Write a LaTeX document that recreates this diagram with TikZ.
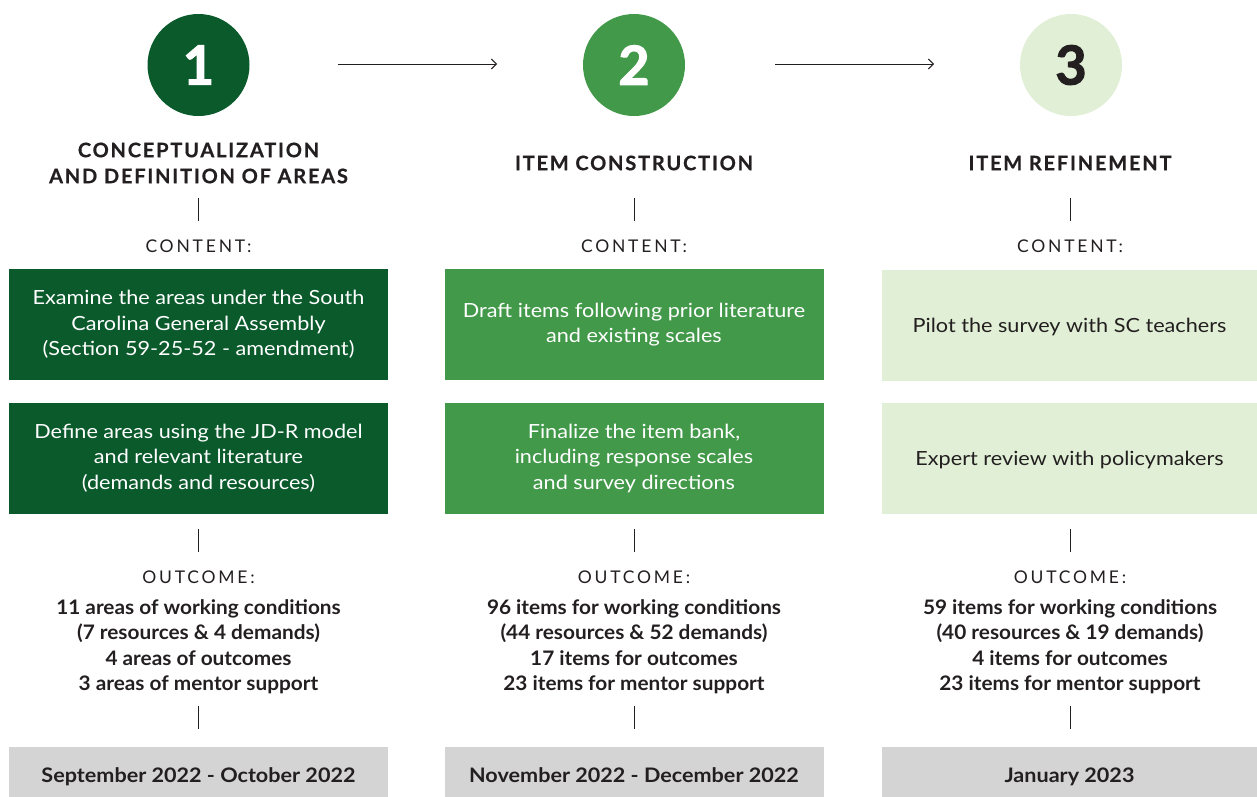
\documentclass[tikz,border=0pt]{standalone}
\usepackage{fontspec}
\usetikzlibrary{arrows.meta}
\setmainfont{Lato}
\newfontfamily\capsfont[LetterSpace=16]{Lato}
\newfontfamily\headfont[LetterSpace=9,FakeBold=0.6]{Lato}
\newfontfamily\bodyfont[FakeStretch=1.11]{Lato}
\newfontfamily\outfont[FakeStretch=1.04]{Lato}
\newfontfamily\barfont[FakeStretch=1.08]{Lato}
\newfontfamily\numfont[FakeBold=2]{Lato}
\definecolor{dg}{HTML}{0A5A2C}
\definecolor{mg}{HTML}{43994A}
\definecolor{lg}{HTML}{E0EFD5}
\definecolor{gb}{HTML}{D4D4D4}
\definecolor{tx}{HTML}{231F20}
\tikzset{
  numc/.style={circle, minimum size=102pt, inner sep=0pt, font=\numfont\fontsize{54}{54}\selectfont\bfseries},
  head/.style={align=center, text=tx, font=\headfont\fontsize{20}{26}\selectfont\bfseries},
  lab/.style={text=tx, font=\capsfont\fontsize{17.5}{20}\selectfont},
  box/.style={minimum width=379pt, minimum height=111pt, inner sep=0pt, align=center, font=\bodyfont\fontsize{19.5}{25.5}\selectfont},
  onebox/.style={box, text height=14pt, text depth=0pt},
  outc/.style={align=center, text=tx, font=\outfont\fontsize{20}{25.5}\selectfont\bfseries},
  bar/.style={fill=gb, minimum width=379pt, minimum height=57pt, inner sep=0pt, text=tx, text height=14.5pt, text depth=0pt, font=\barfont\fontsize{20}{25}\selectfont\bfseries},
  tick/.style={draw=tx, line width=0.9pt},
  flow/.style={draw=tx, line width=0.9pt, -{Straight Barb[length=5pt,width=10pt]}}
}
\begin{document}
\begin{tikzpicture}[x=1pt,y=-1pt]
\path[use as bounding box] (0,0) rectangle (1257,796);
% circles
\node[numc, fill=dg, text=white] (c1) at (198.5,65) {1};
\node[numc, fill=mg, text=white] (c2) at (634,65) {2};
\node[numc, fill=lg, text=tx] (c3) at (1071,65) {3};
\coordinate (a1s) at (338,64); \coordinate (a1e) at (497,64);
\coordinate (a2s) at (775,64); \coordinate (a2e) at (934,64);
\draw[flow] (a1s) -- (a1e);
\draw[flow] (a2s) -- (a2e);
% titles
\node[head] (h1) at (198.5,163) {CONCEPTUALIZATION\\AND DEFINITION OF AREAS};
\node[head] (h2) at (634,163) {ITEM CONSTRUCTION};
\node[head] (h3) at (1070,163) {ITEM REFINEMENT};
% ticks
\foreach \x/\n in {198.5/1,634/2,1070/3}{
  \coordinate (ta\n) at (\x,198); \coordinate (tb\n) at (\x,221);
  \coordinate (tc\n) at (\x,529); \coordinate (td\n) at (\x,552);
  \coordinate (te\n) at (\x,706); \coordinate (tf\n) at (\x,729);
  \draw[tick] (ta\n) -- (tb\n);
  \draw[tick] (tc\n) -- (td\n);
  \draw[tick] (te\n) -- (tf\n);
  \node[lab] (ct\n) at (\x,246) {CONTENT:};
  \node[lab] (oc\n) at (\x,577) {OUTCOME:};
}
% boxes
\node[box, fill=dg, text=white] (b11) at (198.5,324.5) {Examine the areas under the South\\Carolina General Assembly\\(Section 59-25-52 - amendment)};
\node[box, fill=dg, text=white] (b12) at (198.5,458) {Define areas using the JD-R model\\and relevant literature\\(demands and resources)};
\node[box, fill=mg, text=white] (b21) at (634,324.5) {Draft items following prior literature\\and existing scales};
\node[box, fill=mg, text=white] (b22) at (634,458) {Finalize the item bank,\\including response scales\\and survey directions};
\node[onebox, fill=lg, text=tx, minimum width=376pt] (b31) at (1069.5,325) {Pilot the survey with SC teachers};
\node[onebox, fill=lg, text=tx, minimum width=376pt] (b32) at (1069.5,458.5) {Expert review with policymakers};
% outcomes
\node[outc] (o1) at (198.5,646.5) {11 areas of working conditions\\(7 resources \& 4 demands)\\4 areas of outcomes\\3 areas of mentor support};
\node[outc] (o2) at (634,646.5) {96 items for working conditions\\(44 resources \& 52 demands)\\17 items for outcomes\\23 items for mentor support};
\node[outc] (o3) at (1070,646.5) {59 items for working conditions\\(40 resources \& 19 demands)\\4 items for outcomes\\23 items for mentor support};
% bars
\node[bar] (d1) at (198.5,775.5) {September 2022 - October 2022};
\node[bar] (d2) at (634,775.5) {November 2022 - December 2022};
\node[bar, minimum width=376pt] (d3) at (1069.5,775.5) {January 2023};
\end{tikzpicture}
\end{document}
